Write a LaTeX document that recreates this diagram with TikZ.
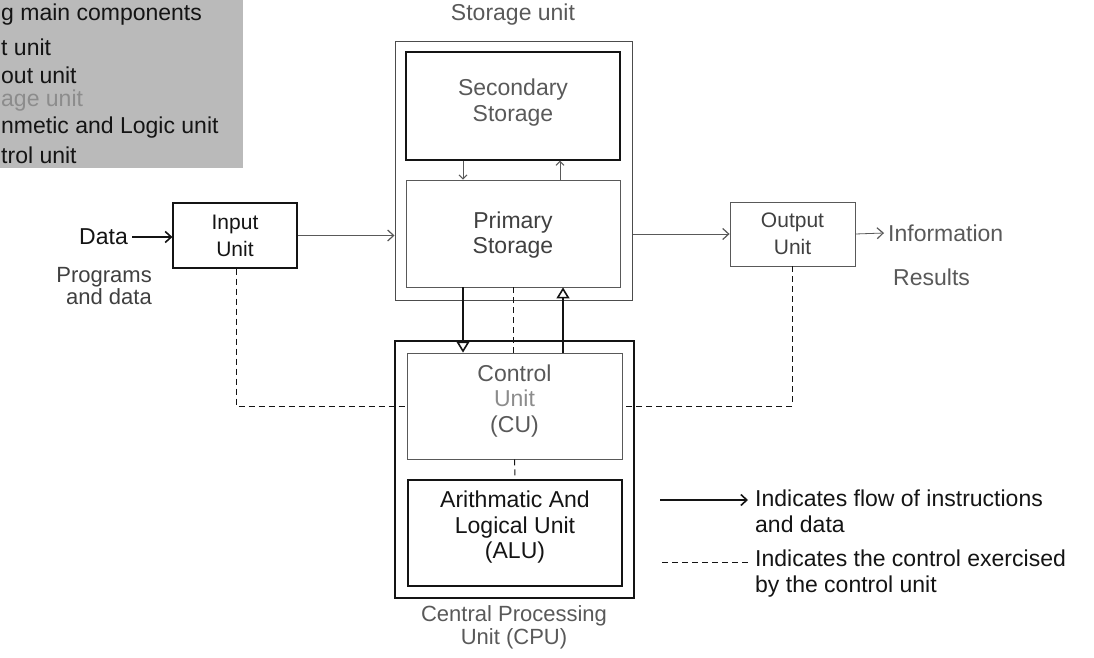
\documentclass[tikz,border=0pt]{standalone}
\usepackage{fontspec}
\setmainfont{Liberation Sans}
\usetikzlibrary{arrows.meta}
\definecolor{dark}{gray}{0.08}
\definecolor{mid}{gray}{0.35}
\definecolor{light}{gray}{0.55}
\tikzset{
  txt/.style={inner sep=0pt, align=center, font=\fontsize{23}{25.5}\selectfont},
  unitbox/.style={draw=dark, line width=1.2pt, rectangle, inner sep=0pt, align=center, font=\fontsize{23}{25.5}\selectfont},
  fadedbox/.style={unitbox, draw=mid, line width=0.8pt},
  flow/.style={draw=dark, line width=1.3pt, -{Straight Barb[length=6pt,width=11pt,line width=1.6pt]}},
  thinflow/.style={draw=mid, line width=0.8pt, -{Straight Barb[length=6pt,width=11pt,line width=1.2pt]}},
  smallflow/.style={draw=mid, line width=0.8pt, -{Straight Barb[length=4pt,width=8pt,line width=1pt]}},
  bigflow/.style={draw=dark, line width=1.4pt, -{Triangle[open,length=11pt,width=13pt,line width=1.6pt]}},
  ctrl/.style={draw=dark, line width=1pt, dash pattern=on 6pt off 4pt},
}
\begin{document}
\begin{tikzpicture}[x=1pt,y=-1pt]
\useasboundingbox (0,0) rectangle (1094,658);
\fill[black!27] (0,0) rectangle (243,168);
% top-left list (cut off)
\node[txt, anchor=west, text=dark] (l1) at (1,15) {g main components};
\node[txt, anchor=west, text=dark] (l2) at (1,47) {t unit};
\node[txt, anchor=west, text=dark] (l3) at (1,75) {out unit};
\node[txt, anchor=west, text=light] (l4) at (1,101) {age unit};
\node[txt, anchor=west, text=dark] (l5) at (1,128) {nmetic and Logic unit};
\node[txt, anchor=west, text=dark] (l6) at (1,155) {trol unit};

% storage unit
\node[txt, text=mid] (stortitle) at (513,15) {Storage unit};
\node[fadedbox, minimum width=237pt, minimum height=258pt, line width=1pt, draw=black!70] (stor) at (513.5,171) {};
\node[unitbox, minimum width=214pt, minimum height=108pt, text=mid] (sec) at (513,106) {};
\node[txt, text=mid] (sectext) at (513,102.5) {Secondary\\Storage};
\node[fadedbox, minimum width=214pt, minimum height=107pt] (prim) at (513,233.5) {};
\node[txt, text=black!75] (primtext) at (513,235) {Primary\\Storage};

% input / output
\node[unitbox, minimum width=124pt, minimum height=65pt, text=dark, font=\fontsize{21}{27}\selectfont] (input) at (235,235.5) {Input\\Unit};
\node[fadedbox, minimum width=125pt, minimum height=64pt, text=black!75, font=\fontsize{21}{27}\selectfont] (output) at (792.5,234) {Output\\Unit};

\node[txt, anchor=east, text=dark] (data) at (128,237) {Data};
\node[txt, anchor=east, align=right, text=black!75, font=\fontsize{22}{22}\selectfont] (prog) at (152,286) {Programs\\and data};
\node[txt, anchor=west, text=mid] (info) at (888,233) {Information};
\node[txt, anchor=west, text=mid] (res) at (893,277) {Results};

% CPU
\node[unitbox, minimum width=239pt, minimum height=257pt, line width=1.3pt] (cpu) at (514.5,469.5) {};
\node[fadedbox, minimum width=215pt, minimum height=106pt] (cu) at (514.5,406) {};
\node[txt, text=mid] (cutext) at (514.5,401) {Control\\\textcolor{light}{Unit}\\(CU)};
\node[unitbox, minimum width=214pt, minimum height=106pt, line width=1.3pt] (alu) at (515,533) {};
\node[txt, text=dark] (alutext) at (515,527.5) {Arithmatic And\\Logical Unit\\(ALU)};
\node[txt, text=mid, font=\fontsize{22}{23}\selectfont] (cpulabel) at (514,627) {Central Processing\\Unit (CPU)};

% data flow
\draw[flow] (data.east) ++(4pt,0) -- (data.east -| input.west);
\draw[thinflow] (input.east) -- (input.east -| stor.west);
\draw[thinflow] (stor.east |- output.west) -- (output.west);
\draw[thinflow] (output.east) -- ([xshift=-4pt]info.west);
\draw[smallflow] ([xshift=-50pt]sec.south) -- ([xshift=-50pt]prim.north);
\draw[smallflow] ([xshift=47pt]prim.north) -- ([xshift=47pt]sec.south);
\draw[bigflow] ([xshift=-50pt]prim.south) -- ([xshift=-51.5pt]cu.north);
\draw[bigflow] ([xshift=48.5pt]cu.north) -- ([xshift=50pt]prim.south);

% control
\draw[ctrl] (prim.south) -- (prim.south |- cu.north);
\draw[ctrl] (cu.south) -- (alu.north);
\draw[ctrl] ([xshift=1pt]input.south) |- (cu.west);
\draw[ctrl] (output.south) |- (cu.east);

% legend
\coordinate (ls1) at (660,500);
\coordinate (le1) at (748,500);
\coordinate (ls2) at (662,562);
\coordinate (le2) at (748,562);
\draw[flow] (ls1) -- (le1);
\draw[ctrl] (ls2) -- (le2);
\node[txt, anchor=west, align=left, text=dark] (leg1) at ([xshift=7pt,yshift=-11.5pt]le1) {Indicates flow of instructions\\and data};
\node[txt, anchor=west, align=left, text=dark] (leg2) at ([xshift=7pt,yshift=-11.5pt]le2) {Indicates the control exercised\\by the control unit};
\end{tikzpicture}
\end{document}
